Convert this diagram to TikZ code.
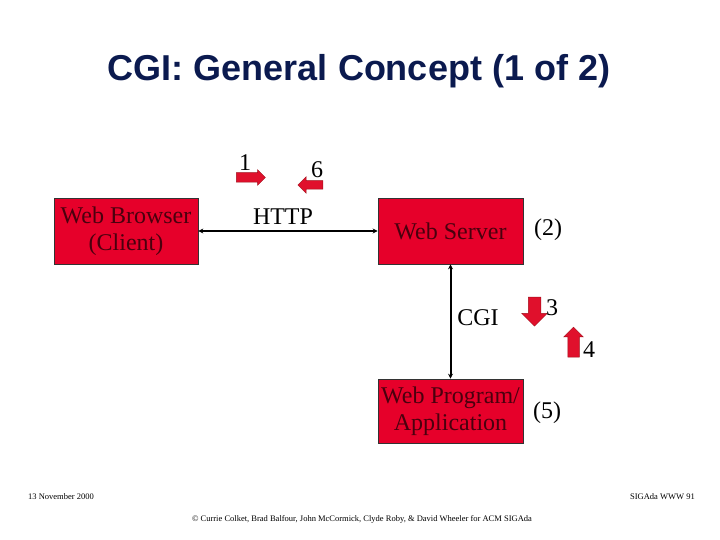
\documentclass[tikz,border=0pt]{standalone}
\usepackage{fontspec}
\setmainfont{Liberation Serif}
\newfontfamily\titlefont{Liberation Sans}
\usetikzlibrary{arrows.meta,shapes.arrows,positioning}
\definecolor{slidered}{HTML}{E6002A}
\definecolor{boxtext}{HTML}{4A000E}
\definecolor{titleblue}{HTML}{0B1A4F}
\definecolor{arrowred}{HTML}{E0102C}
\definecolor{arrowedge}{HTML}{A0101C}

\begin{document}
\begin{tikzpicture}[
  x=1pt,y=-1pt,
  block/.style={
    rectangle,draw=black!80,line width=.6pt,fill=slidered,
    text=boxtext,inner sep=0pt,align=center,
    font=\fontsize{24}{27.5}\selectfont
  },
  label/.style={font=\fontsize{24}{27}\selectfont,inner sep=0pt,text=black},
  link/.style={
    {Stealth[length=5pt,width=5pt]}-{Stealth[length=5pt,width=5pt]},
    draw=black,line width=2pt
  },
  step arrow/.style={
    single arrow,fill=arrowred,draw=arrowedge,line width=.5pt
  },
  footer/.style={font=\fontsize{8.5}{10}\selectfont,inner sep=0pt}
]
  \useasboundingbox (0,0) rectangle (720,540);

  \node[font=\titlefont\bfseries\fontsize{36}{40}\selectfont,text=titleblue]
    (title) at (359,71) {CGI: General Concept (1 of 2)};

  % the three boxes
  \node[block,minimum width=144,minimum height=66] (browser) at (126,231)
    {Web Browser\\(Client)};
  \node[block,minimum width=145,minimum height=66] (server) at (450.5,231)
    {Web Server};
  \node[block,minimum width=145,minimum height=64] (program) at (450.5,411)
    {Web Program/\\Application};

  \draw[link] (browser.east) -- (server.west);
  \draw[link] (server.south) -- (program.north);

  \node[label] (http) at (283,217) {HTTP};
  \node[label] (cgi) at (478,318) {CGI};
  \node[label] (two) at (548,230) {(2)};
  \node[label] (five) at (547,413) {(5)};

  % numbered steps
  \node[step arrow,inner sep=4.5pt,single arrow head extend=3pt,
    minimum height=29] (stepone) at (248.5,177.5) {};
  \node[label] at (245,163) {1};
  \node[step arrow,shape border rotate=180,inner sep=4pt,
    single arrow head extend=4pt,minimum height=25] (stepsix) at (312.5,185) {};
  \node[label] at (317,170) {6};
  \node[step arrow,shape border rotate=270,inner sep=6pt,
    single arrow head extend=6.5pt,minimum height=29] (stepthree) at (534.5,308.5) {};
  \node[label] at (552,308) {3};
  \node[step arrow,shape border rotate=90,inner sep=5.5pt,
    single arrow head extend=4pt,minimum height=30] (stepfour) at (573.5,345) {};
  \node[label] at (589,350) {4};

  % footer
  \node[footer,anchor=west] (date) at (28,497) {13 November 2000};
  \node[footer,anchor=east] (slide) at (695,497) {SIGAda WWW 91};
  \node[footer] (credit) at (362,519)
    {\textcopyright{} Currie Colket, Brad Balfour, John McCormick, Clyde Roby, \& David Wheeler for ACM SIGAda};
\end{tikzpicture}
\end{document}
